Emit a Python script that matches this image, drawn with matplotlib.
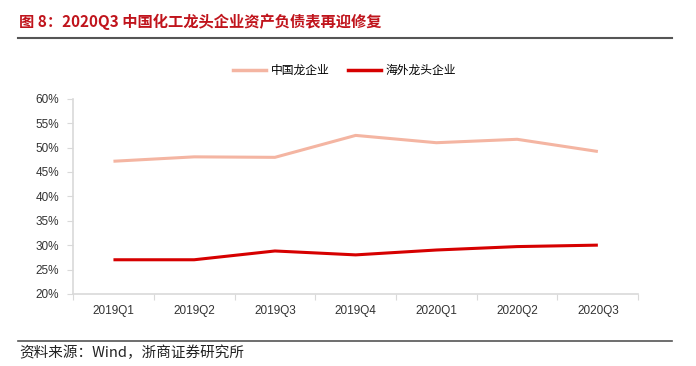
import matplotlib
matplotlib.use("Agg")
import matplotlib.pyplot as plt
from matplotlib.lines import Line2D

plt.rcParams['font.family'] = ['Liberation Sans', 'Noto Sans CJK SC']

quarters = ["2019Q1", "2019Q2", "2019Q3", "2019Q4", "2020Q1", "2020Q2", "2020Q3"]
china_leaders = [47.2, 48.1, 48.0, 52.5, 51.0, 51.7, 49.2]
overseas_leaders = [27.0, 27.0, 28.8, 28.0, 29.0, 29.7, 30.0]
series_names = ["中国龙企业", "海外龙头企业"]
yticks = [20, 25, 30, 35, 40, 45, 50, 55, 60]

fig = plt.figure(figsize=(6.96, 3.66), dpi=100)
ax = fig.add_axes([0.105, 0.197, 0.812, 0.533])

x = range(len(quarters))
ax.plot(x, china_leaders, color="#F4B5A2", lw=2.2, solid_capstyle="butt")
ax.plot(x, overseas_leaders, color="#D60000", lw=2.2, solid_capstyle="butt")

ax.set_xlim(-0.5, len(quarters) - 0.5)
ax.set_ylim(20, 60)
ax.set_yticks(yticks)
ax.set_yticklabels([f"{v}%" for v in yticks], fontsize=8.5, color="#333333")
ax.set_xticks([i - 0.5 for i in range(len(quarters) + 1)], minor=False)
ax.set_xticklabels([])
ax.set_xticks(list(x), minor=True)
ax.set_xticklabels(quarters, minor=True, fontsize=8.5, color="#333333")
ax.tick_params(axis="x", which="minor", length=0, pad=8)
ax.tick_params(axis="x", which="major", length=4, color="#D9D9D9", direction="out")
ax.tick_params(axis="y", length=4, color="#D9D9D9", direction="out", pad=6)

for side in ["top", "right"]:
    ax.spines[side].set_visible(False)
for side in ["left", "bottom"]:
    ax.spines[side].set_color("#D9D9D9")
    ax.spines[side].set_linewidth(1.2)

handles = [Line2D([], [], color="#F4B5A2", lw=2.5),
           Line2D([], [], color="#D60000", lw=2.5)]
fig.legend(handles, series_names, loc="center", bbox_to_anchor=(0.495, 0.808),
           ncol=2, frameon=False, handlelength=2.8, handletextpad=0.4,
           columnspacing=1.6,
           prop={"family": "Noto Sans CJK SC", "size": 8.5})

fig.text(0.027, 0.94, "图 8：2020Q3 中国化工龙头企业资产负债表再迎修复",
         fontsize=11, fontweight="bold", color="#C0141C",
         family=["Noto Sans CJK SC"], va="center")
fig.add_artist(Line2D([0.026, 0.966], [0.896, 0.896], color="#555555", lw=1.5))
fig.add_artist(Line2D([0.026, 0.966], [0.068, 0.068], color="#555555", lw=1.2))
fig.text(0.027, 0.036, "资料来源：Wind，浙商证券研究所", fontsize=10.5,
         color="#222222", family=["Noto Sans CJK SC"], va="center")

fig.savefig("out.png", dpi=100)
